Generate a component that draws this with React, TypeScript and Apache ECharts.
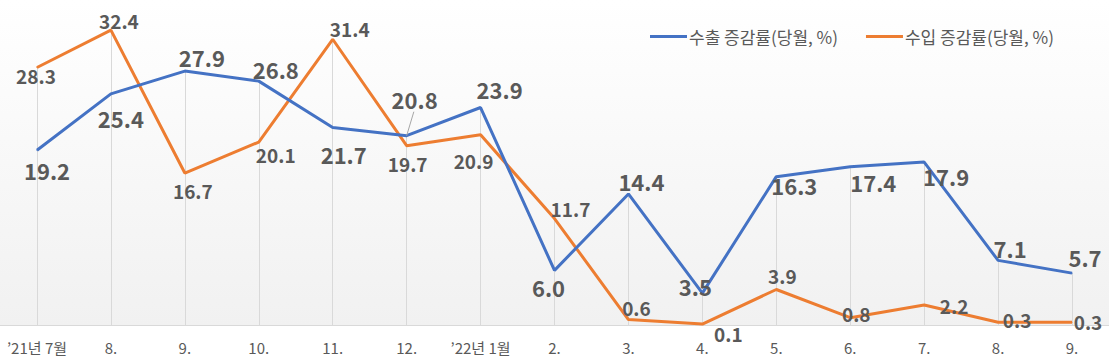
import React, { useEffect, useRef } from "react";
import * as echarts from "echarts";

const categories = ["’21년 7월", "8.", "9.", "10.", "11.", "12.", "’22년 1월", "2.", "3.", "4.", "5.", "6.", "7.", "8.", "9."];
const exportGrowth = [19.2, 25.4, 27.9, 26.8, 21.7, 20.8, 23.9, 6.0, 14.4, 3.5, 16.3, 17.4, 17.9, 7.1, 5.7];
const importGrowth = [28.3, 32.4, 16.7, 20.1, 31.4, 19.7, 20.9, 11.7, 0.6, 0.1, 3.9, 0.8, 2.2, 0.3, 0.3];
const seriesNames = ["수출 증감률(당월, %)", "수입 증감률(당월, %)"];

// label placement offsets (layout only)
const exportLabelOffsets = [
  [10, 20], [10, 24], [17, -14], [17, -12], [11, 26], [8, -37], [19, -19],
  [-6, 17], [13, -13], [-7, -7], [18, 8], [23, 15], [22, 14], [12, -12], [13, -16],
];
const importLabelOffsets = [
  [-1, 8], [8, -10], [8, 17], [17, 12], [17, -11], [1, 18], [-7, 26],
  [16, -10], [8, -12], [26, 9], [6, -14], [6, -4], [30, 1], [19, -3], [16, -1],
];

const FONT = "'Noto Sans CJK KR', 'Noto Sans', sans-serif";
const TEXT = "#595959";

export default function App() {
  const ref = useRef<HTMLDivElement>(null);
  useEffect(() => {
    document.body.style.margin = "0";
    const chart = echarts.init(ref.current!, undefined, { renderer: "svg" });
    const dropLines = categories.map((_, i) => {
      const top = Math.max(exportGrowth[i], importGrowth[i]);
      return [{ coord: [i, top] }, { coord: [i, 0] }];
    });
    const mk = (vals: number[], offs: number[][]) =>
      vals.map((v, i) => ({ value: v, label: { offset: offs[i] } }));
    const bg = {
      type: "rect",
      z: -10,
      silent: true,
      shape: { x: 0, y: 0, width: 1109, height: 325 },
      style: {
        fill: new echarts.graphic.LinearGradient(0, 0, 0, 1, [
          { offset: 0, color: "#ffffff" },
          { offset: 1, color: "#f1f1f1" },
        ]),
      },
    };
    chart.setOption({
      animation: false,
      textStyle: { fontFamily: FONT },
      graphic: [bg],
      legend: {
        left: 645,
        top: 23,
        itemGap: 28,
        itemWidth: 37,
        itemHeight: 3,
        icon: "rect",
        textStyle: { fontSize: 17, color: TEXT, fontFamily: FONT, padding: [0, 0, 0, -3] },
        data: seriesNames,
      },
      grid: { left: 0, right: 0, top: 6.5, bottom: 37 },
      xAxis: {
        type: "category",
        data: categories,
        boundaryGap: true,
        axisLine: { show: true, lineStyle: { color: "#d9d9d9", width: 1 } },
        axisTick: { show: false },
        splitLine: { show: false },
        axisLabel: { color: TEXT, fontSize: 15, margin: 15, fontFamily: FONT, interval: 0 },
      },
      yAxis: { type: "value", min: 0, max: 35, show: false, splitLine: { show: false } },
      series: [
        {
          name: seriesNames[0],
          type: "line",
          data: mk(exportGrowth, exportLabelOffsets),
          symbol: "circle",
          symbolSize: 1,
          showSymbol: true,
          lineStyle: { color: "#4472C4", width: 3 },
          itemStyle: { color: "#4472C4" },
          z: 3,
          label: {
            show: true,
            position: "inside",
            align: "center",
            verticalAlign: "middle",
            fontSize: 22,
            fontWeight: "bold",
            color: TEXT,
            fontFamily: FONT,
            formatter: (p: any) => Number(p.value).toFixed(1),
          },
          markLine: {
            silent: true,
            symbol: "none",
            label: { show: false },
            lineStyle: { color: "#d9d9d9", width: 1, type: "solid" },
            z: 1,
            data: dropLines,
          },
        },
        {
          name: seriesNames[1],
          type: "line",
          data: mk(importGrowth, importLabelOffsets),
          symbol: "circle",
          symbolSize: 1,
          showSymbol: true,
          lineStyle: { color: "#ED7D31", width: 3 },
          itemStyle: { color: "#ED7D31" },
          z: 2,
          label: {
            show: true,
            position: "inside",
            align: "center",
            verticalAlign: "middle",
            fontSize: 19,
            fontWeight: "bold",
            color: TEXT,
            fontFamily: FONT,
            formatter: (p: any) => Number(p.value).toFixed(1),
          },
        },
      ],
    });
    // leader line for the displaced 20.8 label
    const idx = 5;
    const p = chart.convertToPixel({ seriesIndex: 0 }, [idx, exportGrowth[idx]]) as number[];
    const off = exportLabelOffsets[idx];
    chart.setOption({
      graphic: [
        bg,
        {
          type: "line",
          silent: true,
          z: 5,
          shape: { x1: p[0], y1: p[1], x2: p[0] + off[0] * 0.9, y2: p[1] + off[1] + 13 },
          style: { stroke: "#a6a6a6", lineWidth: 1 },
        },
      ],
    });
    return () => chart.dispose();
  }, []);
  return <div ref={ref} style={{ position: "absolute", left: 0, top: 0, width: 1109, height: 362 }} />;
}
